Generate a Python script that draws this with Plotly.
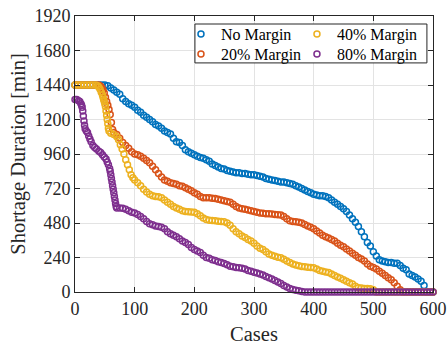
import plotly.graph_objects as go

FONT = "Liberation Serif"

blue_cases = [0,5,10,15,20,25,30,35,40,45,50,55,60,65,70,75,80,85,90,95,100,105,110,115,120,125,130,135,140,145,150,155,160,165,170,175,180,185,190,195,200,205,210,215,220,225,230,235,240,245,250,255,260,265,270,275,280,285,290,295,300,305,310,315,320,325,330,335,340,345,350,355,360,365,370,375,380,385,390,395,400,405,410,415,420,425,430,435,440,445,450,455,460,465,470,475,480,485,490,495,500,505,510,515,520,525,530,535,540,545,550,555,560,565,570,575,580,585,590,595,600]
blue_values = [1440,1440,1440,1440,1440,1440,1440,1440,1440,1440,1440,1435,1420,1405,1390,1375,1345,1325,1310,1300,1285,1265,1250,1230,1215,1200,1185,1165,1155,1140,1120,1110,1100,1070,1045,1040,1020,990,975,965,955,945,935,930,920,910,890,880,870,860,855,845,840,835,830,830,825,825,820,815,815,810,805,800,790,785,780,775,770,765,765,760,755,750,740,730,720,710,700,690,680,675,670,670,665,655,640,625,610,595,580,560,535,510,485,455,420,385,345,320,280,250,225,215,210,205,205,200,200,185,165,155,125,115,105,90,75,45,0,0,0]

orange_cases = [0,5,10,15,20,25,30,35,40,43,45,47,49,51,53,55,57,59,61,63,65,70,75,80,85,90,95,100,105,110,115,120,125,130,135,140,145,150,155,160,165,170,175,180,185,190,195,200,205,210,215,220,225,230,235,240,245,250,255,260,265,270,275,280,285,290,295,300,305,310,315,320,325,330,335,340,345,350,355,360,365,370,375,380,385,390,395,400,405,410,415,420,425,430,435,440,445,450,455,460,465,470,475,480,485,490,495,500,505,510,515,520,525,530,535,540,545,550,555,560,565,570,575,580,585,590,595,600]
orange_values = [1440,1440,1440,1440,1440,1440,1440,1440,1440,1432,1420,1405,1385,1355,1325,1300,1270,1235,1180,1130,1110,1095,1070,1040,1020,1000,975,960,955,945,930,915,900,875,850,825,800,780,770,760,755,750,740,735,725,715,705,690,680,665,655,655,655,652,650,645,640,635,630,625,610,595,585,580,575,570,565,560,555,550,548,545,545,543,540,538,535,525,510,495,490,488,485,480,470,460,450,440,425,410,395,385,375,365,355,340,325,315,300,285,270,255,240,230,215,195,180,170,160,145,130,115,100,85,65,40,15,0,0,0,0,0,0,0,0,0,0,0]

yellow_cases = [0,5,10,15,20,25,30,35,38,40,42,44,46,47,48,49,50,51,52,53,54,55,56,57,60,65,70,73,76,79,82,85,88,91,94,97,100,105,110,115,120,125,130,135,140,145,150,155,160,165,170,175,180,185,190,195,200,205,210,215,220,225,230,235,240,245,250,255,260,265,270,275,280,285,290,295,300,305,310,315,320,325,330,335,340,345,350,355,360,365,370,375,380,385,390,395,400,405,410,415,420,425,430,435,440,445,450,455,460,465,470,475,480,485,490,495,500,505,510,515,520,525,530,535,540,545,550,555,560,565,570,575,580,585,590,595,600]
yellow_values = [1440,1440,1440,1440,1440,1440,1440,1440,1435,1425,1410,1390,1370,1355,1340,1325,1310,1290,1260,1230,1200,1170,1140,1120,1105,1095,1080,1060,1025,995,960,920,885,850,815,795,780,760,740,715,695,680,670,665,662,655,640,625,610,595,585,575,565,560,558,557,555,545,530,515,505,500,498,495,492,490,488,480,465,440,420,405,390,380,365,355,340,320,305,295,280,265,255,248,242,238,228,215,205,195,188,182,178,175,172,170,168,160,150,145,140,135,125,115,105,95,85,75,65,55,40,30,28,25,25,22,15,0,0,0,0,0,0,0,0,0,0,0,0,0,0,0,0,0,0,0,0]

purple_cases = [0,3,6,8,10,11,12,13,14,15,16,17,19,21,23,25,27,30,33,36,40,43,46,49,52,54,56,58,59,60,61,62,63,64,65,66,67,68,69,70,75,80,85,90,95,100,105,110,115,120,125,130,135,140,145,150,155,160,165,170,175,180,185,190,195,200,205,210,215,220,225,230,235,240,245,250,255,260,265,270,275,280,285,290,295,300,305,310,315,320,325,330,335,340,345,350,355,360,365,370,375,380,385,390,395,400,405,410,415,420,425,430,435,440,445,450,455,460,465,470,475,480,485,490,495,500,505,510,515,520,525,530,535,540,545,550,555,560,565,570,575,580,585,590,595,600]
purple_values = [1340,1340,1330,1325,1310,1300,1285,1260,1225,1190,1160,1135,1120,1110,1085,1065,1045,1020,1005,995,980,970,955,940,925,905,885,860,840,815,790,765,740,715,690,665,640,615,595,585,585,583,575,565,555,550,540,525,510,490,475,468,460,455,450,440,420,405,395,385,370,355,345,330,310,295,285,275,255,240,235,225,220,210,205,198,190,180,175,170,168,165,160,150,145,138,133,125,118,108,100,90,80,70,60,45,35,25,18,12,8,4,0,0,0,0,0,0,0,0,0,0,0,0,0,0,0,0,0,0,0,0,0,0,0,0,0,0,0,0,0,0,0,0,0,0,0,0,0,0,0,0,0,0,0,0]

series_names = ["No Margin", "20% Margin", "40% Margin", "80% Margin"]
series_colors = ["#0072BD", "#D95319", "#EDB120", "#7E2F8E"]
series_cases = [blue_cases, orange_cases, yellow_cases, purple_cases]
series_values = [blue_values, orange_values, yellow_values, purple_values]
series_legends = ["legend", "legend2", "legend3", "legend4"]

x_ticks = [0, 100, 200, 300, 400, 500, 600]
y_ticks = [0, 240, 480, 720, 960, 1200, 1440, 1680, 1920]

fig = go.Figure()
for name, color, xs, ys, lg in zip(series_names, series_colors, series_cases, series_values, series_legends):
    fig.add_trace(go.Scatter(
        x=xs, y=ys, mode="markers", name=name, legend=lg,
        cliponaxis=False,
        marker=dict(symbol="circle-open", size=6, color=color,
                    line=dict(width=1.5, color=color)),
    ))

axis_common = dict(
    showline=True, linecolor="#262626", linewidth=1, mirror="ticks",
    ticks="inside", ticklen=5, tickwidth=1, tickcolor="#262626",
    showgrid=True, gridcolor="#e3e3e3", gridwidth=1, zeroline=False,
    tickfont=dict(family=FONT, size=18, color="#262626"),
    automargin=False,
)

fig.update_xaxes(range=[0, 600], tickvals=x_ticks,
                 title=dict(text="Cases", font=dict(family=FONT, size=20.5, color="#262626"), standoff=9),
                 **axis_common)
fig.update_yaxes(range=[0, 1920], tickvals=y_ticks,
                 title=dict(text="Shortage Duration [min]", font=dict(family=FONT, size=20.5, color="#262626"), standoff=3),
                 **axis_common)

leg_common = dict(bgcolor="rgba(0,0,0,0)", borderwidth=0, xanchor="left", yanchor="middle",
                  font=dict(family=FONT, size=16, color="#000000"), itemwidth=30)
col1_x = 0.296
col2_x = 0.620
row1_y = 0.9348
row2_y = 0.8623

fig.update_layout(
    width=448, height=345,
    margin=dict(l=75, r=15, t=16, b=53),
    paper_bgcolor="white", plot_bgcolor="white",
    showlegend=True,
    legend=dict(x=col1_x, y=row1_y, **leg_common),
    legend2=dict(x=col1_x, y=row2_y, **leg_common),
    legend3=dict(x=col2_x, y=row1_y, **leg_common),
    legend4=dict(x=col2_x, y=row2_y, **leg_common),
    shapes=[dict(type="rect", xref="paper", yref="paper", x0=0.335, x1=0.983, y0=0.830, y1=0.971,
                 fillcolor="white", line=dict(color="#262626", width=1), layer="above")],
)

fig.write_html("out.html", config={"displayModeBar": False},
               post_script="document.body.style.margin='0';document.body.style.padding='0';")
